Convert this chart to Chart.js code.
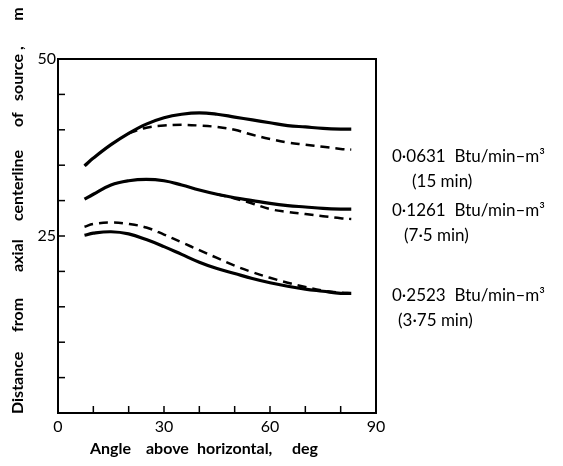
<!DOCTYPE html>
<html>
<head>
<meta charset="utf-8">
<script src="https://cdn.jsdelivr.net/npm/chart.js"></script>
<style>
  html, body { margin: 0; padding: 0; background: #fff; }
  #wrap { width: 563px; height: 466px; }
</style>
</head>
<body>
<div id="wrap"><canvas id="angleChart" width="563" height="466"></canvas></div>
<script>
// angle above horizontal, deg
const angles = [7.5, 10, 15, 20, 25, 30, 35, 40, 45, 50, 55, 60, 65, 70, 75, 80, 83];

// 0.0631 Btu/min-m3 (15 min)
const lowSolid  = [34.9, 36.0, 37.9, 39.5, 40.8, 41.7, 42.2, 42.4, 42.2, 41.8, 41.4, 41.0, 40.6, 40.4, 40.2, 40.1, 40.1];
const lowDashed = [null, null, null, 39.5, 40.3, 40.6, 40.7, 40.6, 40.4, 40.0, 39.3, 38.7, 38.2, 37.9, 37.6, 37.3, 37.2];

// 0.1261 Btu/min-m3 (7.5 min)
const midSolid  = [30.2, 30.9, 32.2, 32.8, 33.0, 32.8, 32.2, 31.5, 30.9, 30.4, 30.0, 29.6, 29.3, 29.1, 28.9, 28.8, 28.8];
const midDashed = [null, null, null, null, null, null, null, null, 30.9, 30.3, 29.6, 28.8, 28.4, 28.1, 27.8, 27.5, 27.4];

// 0.2523 Btu/min-m3 (3.75 min)
const highSolid  = [25.1, 25.4, 25.6, 25.3, 24.5, 23.5, 22.4, 21.3, 20.4, 19.7, 19.0, 18.4, 17.9, 17.5, 17.2, 16.9, 16.9];
const highDashed = [26.3, 26.7, 26.9, 26.7, 26.2, 25.2, 24.1, 23.0, 21.9, 20.8, 19.9, 19.1, 18.4, 17.8, 17.3, 17.0, 16.9];

const xLabels = [0, 30, 60, 90];
const yLabels = [25, 50];

const curveLabels = [
    { rate: '0·0631  Btu/min–m³', time: '(15 min)', y: 157, x2: 412 },
    { rate: '0·1261  Btu/min–m³', time: '(7·5 min)', y: 211, x2: 404 },
    { rate: '0·2523  Btu/min–m³', time: '(3·75 min)', y: 296, x2: 398 }
];

// axis title words, spaced out like the original
const xTitleWords = [['Angle', 90], ['above', 146], ['horizontal,', 197], ['deg', 292]];
const yTitleWords = [['Distance', 414], ['from', 332], ['axial', 272], ['centerline', 221], ['of', 127], ['source ,', 101]];

const FONT = 'Lato, "DejaVu Sans", sans-serif';

function pts(ys) {
    return angles.map((a, i) => ({ x: a, y: ys[i] }));
}

function solid(ys) {
    return { data: pts(ys), borderColor: '#000', borderWidth: 3.2, pointRadius: 0, tension: 0.4, fill: false };
}
function dashed(ys) {
    return { data: pts(ys), borderColor: '#000', borderWidth: 2.5, borderDash: [9, 6], pointRadius: 0, tension: 0.4, fill: false };
}

// frame, inward ticks and free text
const paperPlugin = {
    id: 'paper',
    afterDraw(chart) {
        const c = chart.ctx;
        const a = chart.chartArea;
        const xs = chart.scales.x, ys = chart.scales.y;
        c.save();
        c.strokeStyle = '#000';
        c.lineWidth = 2;
        c.strokeRect(a.left, a.top, a.right - a.left, a.bottom - a.top);

        c.lineWidth = 1.5;
        for (let v = 5; v < 50; v += 5) {
            const py = ys.getPixelForValue(v);
            c.beginPath(); c.moveTo(a.left, py); c.lineTo(a.left + 7, py); c.stroke();
        }
        for (let v = 10; v < 90; v += 10) {
            const px = xs.getPixelForValue(v);
            c.beginPath(); c.moveTo(px, a.bottom); c.lineTo(px, a.bottom - 7); c.stroke();
        }

        c.fillStyle = '#000';
        c.font = 'bold 16px ' + FONT;
        c.textBaseline = 'middle';
        c.textAlign = 'left';
        xTitleWords.forEach(([w, x]) => c.fillText(w, x, 449));

        c.save();
        c.translate(18, 0);
        c.rotate(-Math.PI / 2);
        yTitleWords.forEach(([w, y]) => c.fillText(w, -y, 0));
        c.textAlign = 'center';
        c.fillText('m', -14, 0);
        c.restore();

        c.font = '17px ' + FONT;
        curveLabels.forEach(l => {
            c.fillText(l.rate, 392, l.y);
            c.fillText(l.time, l.x2, l.y + 25);
        });
        c.restore();
    }
};

new Chart(document.getElementById('angleChart'), {
    type: 'line',
    data: {
        datasets: [
            solid(lowSolid), dashed(lowDashed),
            solid(midSolid), dashed(midDashed),
            solid(highSolid), dashed(highDashed)
        ]
    },
    options: {
        responsive: false,
        animation: false,
        layout: { padding: { top: 59, right: 187, left: 0, bottom: 0 } },
        plugins: { legend: { display: false }, tooltip: { enabled: false } },
        scales: {
            x: {
                type: 'linear', min: 0, max: 90,
                grid: { display: false, drawTicks: false },
                border: { display: false },
                ticks: {
                    stepSize: 10, padding: 4, color: '#000',
                    font: { family: FONT, size: 16 },
                    callback: v => xLabels.includes(v) ? String(v) : ''
                },
                afterFit(s) { s.height = 53; }
            },
            y: {
                min: 0, max: 50,
                grid: { display: false, drawTicks: false },
                border: { display: false },
                ticks: {
                    stepSize: 5, padding: 2, color: '#000',
                    font: { family: FONT, size: 16 },
                    callback: v => yLabels.includes(v) ? String(v) : ''
                },
                afterFit(s) { s.width = 58; }
            }
        }
    },
    plugins: [paperPlugin]
});
</script>
</body>
</html>
